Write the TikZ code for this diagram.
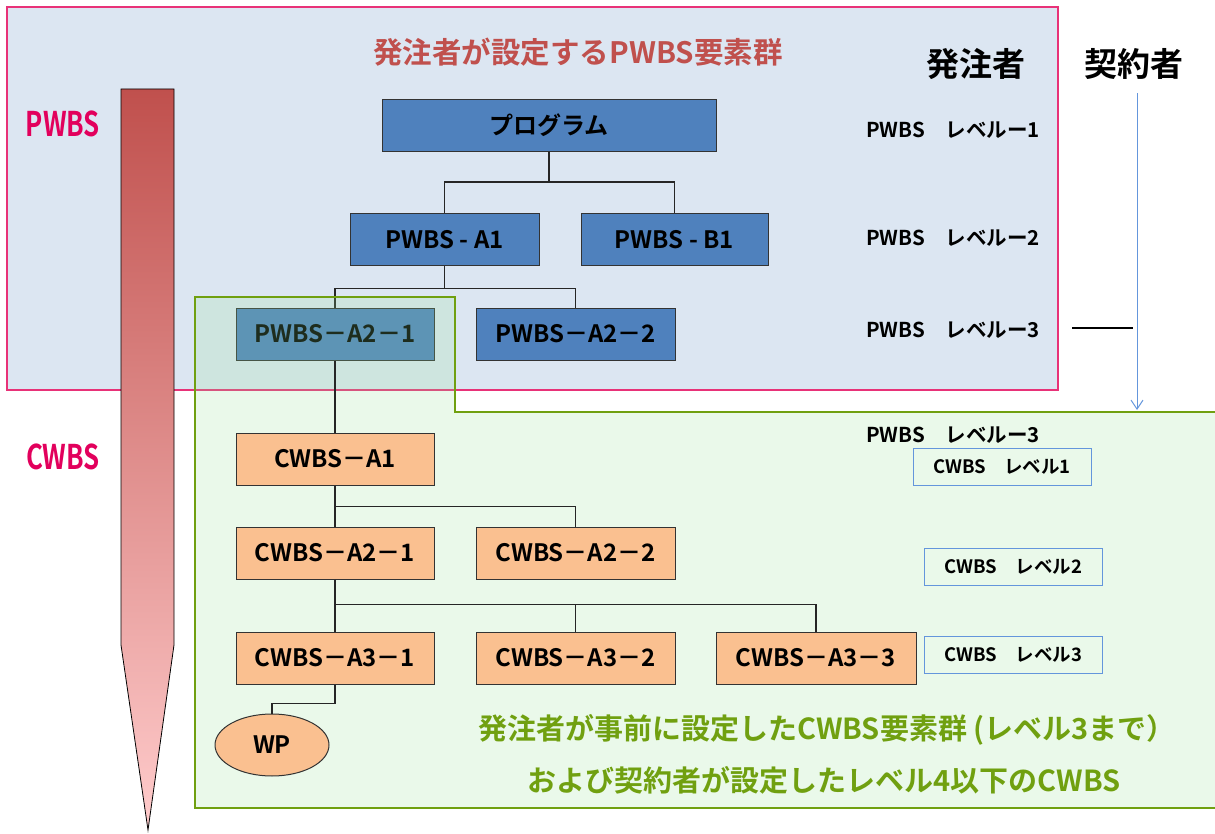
\documentclass[tikz,border=0pt]{standalone}
\usepackage{fontspec}
\setmainfont{Noto Sans CJK JP}[BoldFont={Noto Sans CJK JP Bold}]
\usetikzlibrary{arrows.meta, shapes.geometric, calc}

\definecolor{pwbsblue}{RGB}{79,129,189}
\definecolor{ownerbg}{RGB}{220,230,242}
\definecolor{ownerpink}{RGB}{232,50,120}
\definecolor{cwbsorange}{RGB}{250,192,144}
\definecolor{contrgreen}{RGB}{112,160,16}
\definecolor{contrfill}{RGB}{150,225,150}
\definecolor{titlered}{RGB}{192,80,77}
\definecolor{sidered}{RGB}{226,0,92}
\definecolor{lvblue}{RGB}{100,150,220}

\begin{document}
\begin{tikzpicture}[
    x=1pt, y=-1pt,
    >=Latex,
    % Styles
    elem/.style={ % WBS element box
        rectangle,
        draw=black!80,
        line width=1pt,
        minimum height=52pt,
        inner sep=0pt,
        font=\bfseries\fontsize{24}{24}\selectfont
    },
    pbox/.style={elem, fill=pwbsblue},
    cbox/.style={elem, fill=cwbsorange},
    level/.style={ % level captions on the right
        anchor=west,
        inner sep=0pt,
        font=\bfseries\fontsize{20.5}{20.5}\selectfont
    },
    lvbox/.style={
        rectangle,
        draw=lvblue,
        line width=1pt,
        minimum width=178pt,
        minimum height=37pt,
        font=\bfseries\fontsize{18.5}{18.5}\selectfont
    },
    link/.style={
        line width=1.2pt,
        black!85
    },
    sidelabel/.style={
        text=sidered,
        font=\bfseries\fontsize{34}{34}\selectfont
    },
    greennote/.style={
        text=contrgreen,
        font=\bfseries\fontsize{29}{29}\selectfont
    }
]
    \useasboundingbox (0,0) rectangle (1215,834);

    % Owner area (PWBS)
    \draw[fill=ownerbg, draw=ownerpink, line width=1.5pt] (7,7) rectangle (1058,390);

    % Level bar
    \shade[top color=titlered, bottom color=red!20, draw=black, line width=0.8pt]
        (121,89) -- (174,89) -- (174,645) -- (148,830) -- (121,645) -- cycle;
    \node[sidelabel] (sidep) at (63,124) {\scalebox{0.76}[1]{PWBS}};
    \node[sidelabel] (sidec) at (63,457) {\scalebox{0.76}[1]{CWBS}};

    % Headings
    \node[text=titlered, font=\bfseries\fontsize{29.5}{29.5}\selectfont] (title) at (578,52) {発注者が設定するPWBS要素群};
    \node[font=\bfseries\fontsize{33}{33}\selectfont] (owner) at (976,64) {発注者};
    \node[font=\bfseries\fontsize{33}{33}\selectfont] (contr) at (1134,64) {契約者};

    % PWBS elements
    \node[pbox, minimum width=334pt] (prog) at (549,125.5) {プログラム};
    \node[pbox, minimum width=189pt] (pa1) at (444.5,240) {PWBS - A1};
    \node[pbox, minimum width=187pt] (pb1) at (674.5,240) {PWBS - B1};
    \node[pbox, minimum width=198pt] (pa21) at (335,334) {PWBS－A2－1};
    \node[pbox, minimum width=199pt] (pa22) at (575.5,334) {PWBS－A2－2};

    % Tree links (owner part)
    \draw[link] (prog.south) -- ++(0,30) -| (pa1.north);
    \draw[link] (prog.south) -- ++(0,30) -| (pb1.north);
    \draw[link] (pa1.south) -- ++(0,22) -| (pa21.north);
    \draw[link] (pa1.south) -- ++(0,22) -| (pa22.north);

    % Level captions (owner)
    \node[level] (lv1) at (866,130) {PWBS　レベルー1};
    \node[level] (lv2) at (866,238) {PWBS　レベルー2};
    \node[level] (lv3) at (866,330) {PWBS　レベルー3};

    % Contractor arrow
    \coordinate (arrend) at (1137,410);
    \coordinate (tickL) at (1072,328);
    \coordinate (tickR) at (1133,328);
    \draw[lvblue, line width=1pt, -{Straight Barb[length=9pt, width=12pt]}] (contr.south -| arrend) ++(0,10) -- (arrend);
    \draw[line width=1.2pt] (tickL) -- (tickR);

    % Contractor area (CWBS)
    \fill[contrfill, fill opacity=0.2]
        (195,297) -- (455,297) -- (455,412) -- (1220,412) -- (1220,808) -- (195,808) -- cycle;
    \draw[contrgreen, line width=2pt]
        (195,297) -- (455,297) -- (455,412) -- (1220,412) -- (1220,808) -- (195,808) -- cycle;

    % CWBS elements
    \node[cbox, minimum width=198pt] (ca1) at (335,459) {CWBS－A1};
    \node[cbox, minimum width=198pt] (ca21) at (335,553) {CWBS－A2－1};
    \node[cbox, minimum width=199pt] (ca22) at (575.5,553) {CWBS－A2－2};
    \node[cbox, minimum width=198pt] (ca31) at (335,658) {CWBS－A3－1};
    \node[cbox, minimum width=199pt] (ca32) at (575.5,658) {CWBS－A3－2};
    \node[cbox, minimum width=200pt] (ca33) at (816,658) {CWBS－A3－3};
    \node[ellipse, draw=black!80, line width=1pt, fill=cwbsorange, minimum width=114pt, minimum height=62pt,
          font=\bfseries\fontsize{24}{24}\selectfont] (wp) at (272,745) {WP};

    % Tree links (contractor part)
    \draw[link] (pa21.south) -- (ca1.north);
    \draw[link] (ca1.south) -- (ca21.north);
    \draw[link] (ca1.south) -- ++(0,21) -| (ca22.north);
    \draw[link] (ca21.south) -- (ca31.north);
    \draw[link] (ca21.south) -- ++(0,25) -| (ca32.north);
    \draw[link] (ca21.south) -- ++(0,25) -| (ca33.north);
    \draw[link] (ca31.south) -- ++(0,19) -| (wp.north);

    % Level captions (contractor)
    \node[level] (lv3c) at (866,435) {PWBS　レベルー3};
    \node[lvbox] (cl1) at (1002,466.5) {CWBS　レベル1};
    \node[lvbox] (cl2) at (1013.5,566.5) {CWBS　レベル2};
    \node[lvbox] (cl3) at (1013.5,654.5) {CWBS　レベル3};

    \node[greennote] (note1) at (827,730) {発注者が事前に設定したCWBS要素群 (レベル3まで）};
    \node[greennote] (note2) at (824,780) {および契約者が設定したレベル4以下のCWBS};
\end{tikzpicture}
\end{document}
